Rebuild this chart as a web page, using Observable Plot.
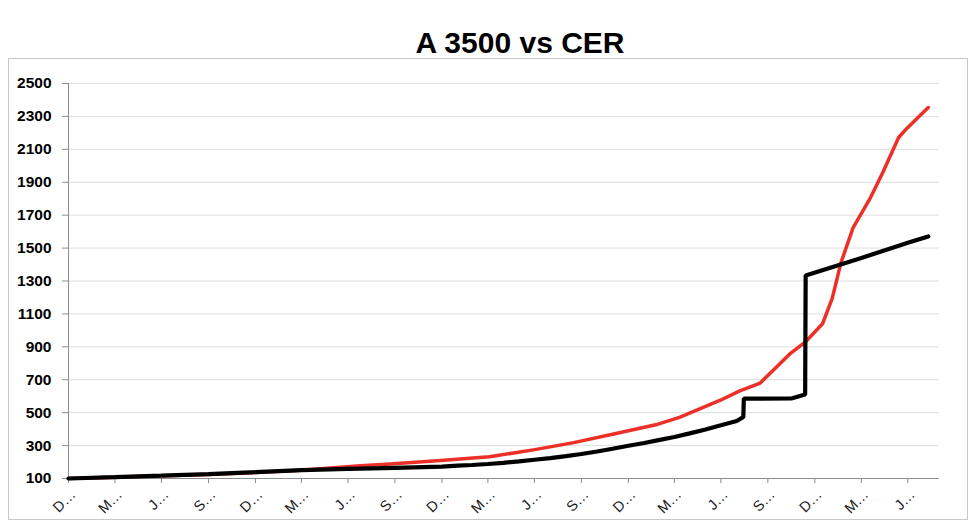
<!DOCTYPE html>
<html>
<head>
<meta charset="utf-8">
<script src="https://cdn.jsdelivr.net/npm/d3@7"></script>
<script src="https://cdn.jsdelivr.net/npm/@observablehq/plot@0.6"></script>
<style>
  html, body { margin: 0; padding: 0; background: #fff; }
  body { width: 980px; height: 528px; position: relative; overflow: hidden; font-family: "Liberation Sans", Arial, sans-serif; }
  #title { position: absolute; left: 0; width: 1040px; top: 28px; text-align: center; font-size: 30px; line-height: 30px; font-weight: bold; color: #000; }
  #box { position: absolute; left: 8px; top: 58px; width: 960px; height: 462px; box-sizing: border-box; border: 1px solid #c8c8c8; }
  #chart { position: absolute; left: 0; top: 0; }
</style>
</head>
<body>
<div id="title">A 3500 vs CER</div>
<div id="box"><div id="chart"></div></div>
<script>
// Series: CER (red) and A 3500 (black), index base = 100
const cerDates = ["2019-12-31","2020-03-31","2020-06-30","2020-09-30","2020-12-31","2021-03-31","2021-06-15","2021-07-24","2021-09-21","2021-12-28","2022-04-03","2022-06-28","2022-09-15","2022-11-30","2023-02-27","2023-04-10","2023-06-28","2023-08-06","2023-09-15","2023-10-10","2023-11-12","2023-12-12","2024-01-15","2024-02-03","2024-02-20","2024-03-15","2024-04-18","2024-05-12","2024-06-12","2024-06-28","2024-07-18","2024-08-09"];
const cerValues = [100,107,116,125,137,150,168,177,188,210,232,274,318,369,430,471,574,632,680,756,857,928,1040,1194,1410,1625,1807,1959,2172,2227,2287,2354];

const a3500Dates = ["2019-12-31","2020-03-31","2020-06-30","2020-09-30","2020-12-31","2021-03-31","2021-06-30","2021-09-30","2021-12-31","2022-01-31","2022-02-28","2022-03-31","2022-04-30","2022-05-31","2022-06-30","2022-07-31","2022-08-31","2022-09-30","2022-10-31","2022-11-30","2022-12-31","2023-01-31","2023-02-28","2023-03-31","2023-04-30","2023-05-31","2023-06-30","2023-07-31","2023-08-13","2023-08-14","2023-11-15","2023-12-12","2023-12-13","2024-03-31","2024-06-30","2024-08-09"];
const a3500Values = [100,108,117,127,139,151,158,165,172,178,182,188,195,204,214,224,236,249,264,281,299,316,333,352,374,398,423,449,474,585,586,610,1333,1440,1532,1571];

// Axes
const yTicks = [100,300,500,700,900,1100,1300,1500,1700,1900,2100,2300,2500];
const xTickDates = ["2019-12-31","2020-03-31","2020-06-30","2020-09-30","2020-12-31","2021-03-31","2021-06-30","2021-09-30","2021-12-31","2022-03-31","2022-06-30","2022-09-30","2022-12-31","2023-03-31","2023-06-30","2023-09-30","2023-12-31","2024-03-31","2024-06-30"];
const xTickLabels = ["D…","M…","J…","S…","D…","M…","J…","S…","D…","M…","J…","S…","D…","M…","J…","S…","D…","M…","J…"];
const xDomain = ["2019-12-31","2024-08-31"];

const cer = cerDates.map((d, i) => ({date: new Date(d), value: cerValues[i]}));
const a3500 = a3500Dates.map((d, i) => ({date: new Date(d), value: a3500Values[i]}));
const xTicks = xTickDates.map((d, i) => ({date: new Date(d), label: xTickLabels[i]}));

const chart = Plot.plot({
  width: 958,
  height: 460,
  marginLeft: 59,
  marginRight: 28,
  marginTop: 24,
  marginBottom: 41,
  style: {fontFamily: "'Liberation Sans', Arial, sans-serif", background: "transparent", color: "#000"},
  x: {type: "utc", domain: xDomain.map(d => new Date(d))},
  y: {domain: [100, 2500]},
  marks: [
    Plot.gridY(yTicks, {stroke: "#dedede", strokeOpacity: 1}),
    Plot.axisY(yTicks, {tickSize: 6, tickPadding: 11, stroke: "#8c8c8c", fill: "#000", fontWeight: "bold", fontSize: 15.5, tickFormat: d => String(d), label: null}),
    Plot.axisX(xTicks.map(t => t.date), {tickSize: 5, stroke: "#8c8c8c", fill: "none", label: null}),
    Plot.ruleY([100], {stroke: "#8c8c8c"}),
    Plot.ruleX([new Date(xDomain[0])], {stroke: "#8c8c8c"}),
    Plot.text(xTicks, {x: "date", text: "label", frameAnchor: "bottom", rotate: -45, textAnchor: "end", dx: 8, dy: 17, fontSize: 14.5, fill: "#1a1a1a"}),
    Plot.line(cer, {x: "date", y: "value", stroke: "#ec2f27", strokeWidth: 3.5, strokeLinejoin: "round", strokeLinecap: "round"}),
    Plot.line(a3500, {x: "date", y: "value", stroke: "#000", strokeWidth: 4.2, strokeLinejoin: "miter", strokeLinecap: "round"})
  ]
});
document.getElementById("chart").appendChild(chart);
</script>
</body>
</html>
